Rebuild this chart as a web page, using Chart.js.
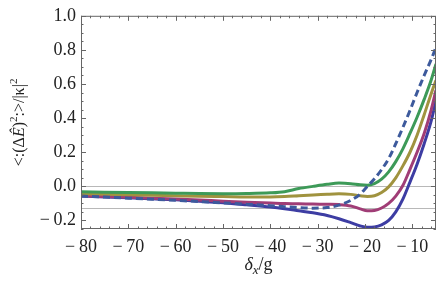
<!DOCTYPE html>
<html>
<head>
<meta charset="utf-8">
<script src="https://cdn.jsdelivr.net/npm/chart.js@4.4.1/dist/chart.umd.min.js"></script>
<style>
html, body { margin: 0; padding: 0; background: #fff; }
#wrap { width: 436px; height: 286px; }
</style>
</head>
<body>
<div id="wrap"><canvas id="chart"></canvas></div>
<script>
// detuning values (δx/g)
const xs = [-80, -75, -70, -65, -60, -55, -50, -45, -40, -37, -34, -31, -28, -25.5, -23, -21, -19.5, -18, -16.5, -15, -13.5, -12, -10.5, -9, -7.5, -6, -5]

const blueVals    = [-0.057, -0.062, -0.067, -0.073, -0.079, -0.087, -0.096, -0.108, -0.121, -0.131, -0.143, -0.155, -0.171, -0.19, -0.213, -0.232, -0.24, -0.238, -0.226, -0.2, -0.15, -0.075, 0.025, 0.13, 0.25, 0.385, 0.505]
const magentaVals = [-0.055, -0.059, -0.064, -0.069, -0.074, -0.08, -0.087, -0.093, -0.098, -0.101, -0.102, -0.104, -0.105, -0.107, -0.115, -0.132, -0.143, -0.141, -0.127, -0.1, -0.057, 0.005, 0.1, 0.2, 0.31, 0.45, 0.565]
const oliveVals   = [-0.043, -0.046, -0.049, -0.052, -0.055, -0.058, -0.06, -0.062, -0.062, -0.06, -0.055, -0.05, -0.046, -0.044, -0.047, -0.055, -0.059, -0.055, -0.036, -0.003, 0.05, 0.12, 0.2, 0.3, 0.42, 0.545, 0.622]
const greenVals   = [-0.032, -0.034, -0.036, -0.038, -0.04, -0.042, -0.043, -0.042, -0.038, -0.031, -0.013, 0.0, 0.012, 0.019, 0.016, 0.009, 0.007, 0.016, 0.042, 0.085, 0.145, 0.22, 0.31, 0.405, 0.51, 0.625, 0.718]
const dashedVals  = [-0.057, -0.063, -0.069, -0.075, -0.082, -0.089, -0.097, -0.105, -0.113, -0.119, -0.125, -0.128, -0.124, -0.11, -0.082, -0.045, 0.0, 0.045, 0.098, 0.163, 0.25, 0.345, 0.445, 0.55, 0.65, 0.745, 0.815]

const xTicks = [-80, -70, -60, -50, -40, -30, -20, -10]
const yTicks = [-0.2, 0.0, 0.2, 0.4, 0.6, 0.8, 1.0]
const refLines = [0, -0.125]

const serif = "'Liberation Serif', 'DejaVu Serif', serif"

function pts(vals) {
 return xs.map((x, i) => ({ x: x, y: vals[i] }))
}

function fmtNum(v, digits) {
 const s = Math.abs(v).toFixed(digits)
 return v < 0 ? "\u2212\u2009" + s : s
}

function line(label, vals, color, order, dash) {
 return {
  label: label,
  data: pts(vals),
  borderColor: color,
  borderWidth: 3,
  borderDash: dash || [],
  pointRadius: 0,
  fill: false,
  cubicInterpolationMode: "monotone",
  order: order
 }
}

// draws a run of text pieces (different fonts / raised) starting at x
function drawPieces(ctx, pieces, x, y) {
 pieces.forEach(p => {
  ctx.font = p.f
  ctx.fillText(p.t, x, y + (p.dy || 0))
  x += ctx.measureText(p.t).width + (p.gap || 0)
 })
}
function piecesWidth(ctx, pieces) {
 let w = 0
 pieces.forEach(p => { ctx.font = p.f; w += ctx.measureText(p.t).width + (p.gap || 0) })
 return w
}

const framePlugin = {
 id: "frame",
 beforeDatasetsDraw(chart) {
  const { ctx, chartArea: a, scales } = chart
  ctx.save()
  ctx.strokeStyle = "#b8b8b8"
  ctx.lineWidth = 1
  refLines.forEach(v => {
   const py = Math.round(scales.y.getPixelForValue(v)) + 0.5
   ctx.beginPath()
   ctx.moveTo(a.left, py)
   ctx.lineTo(a.right, py)
   ctx.stroke()
  })
  ctx.restore()
 },
 afterDatasetsDraw(chart) {
  const { ctx, chartArea: a, scales } = chart
  ctx.save()
  ctx.strokeStyle = "#666"
  ctx.lineWidth = 1
  ctx.strokeRect(a.left + 0.5, a.top + 0.5, a.right - a.left - 1, a.bottom - a.top - 1)

  ctx.beginPath()
  // x ticks, every 2 with majors every 10
  for (let v = -80; v <= -5; v += 2) {
   const px = Math.round(scales.x.getPixelForValue(v)) + 0.5
   const len = v % 10 === 0 ? 5 : 2.5
   ctx.moveTo(px, a.bottom); ctx.lineTo(px, a.bottom - len)
   ctx.moveTo(px, a.top); ctx.lineTo(px, a.top + len)
  }
  // y ticks, every 0.05 with majors every 0.2
  for (let k = -5; k <= 20; k++) {
   const v = k * 0.05
   const py = Math.round(scales.y.getPixelForValue(v)) + 0.5
   const len = k % 4 === 0 ? 5 : 2.5
   ctx.moveTo(a.left, py); ctx.lineTo(a.left + len, py)
   ctx.moveTo(a.right, py); ctx.lineTo(a.right - len, py)
  }
  ctx.stroke()
  ctx.restore()
 },
 afterDraw(chart) {
  const { ctx, chartArea: a } = chart
  ctx.save()
  ctx.fillStyle = "#222"
  ctx.textBaseline = "alphabetic"

  // x axis title: δx/g
  const xt = [
   { t: "\u03b4", f: "italic 18px " + serif },
   { t: "x", f: "italic 13px " + serif, dy: 4 },
   { t: "/g", f: "18px " + serif }
  ]
  const xw = piecesWidth(ctx, xt)
  drawPieces(ctx, xt, (a.left + a.right) / 2 - xw / 2, 270)

  // y axis title: <:(ΔÊ)²:>/|κ|²
  const f = "16px " + serif
  const yt = [
   { t: "<:(\u0394", f: f },
   { t: "\u00ca", f: "italic " + f },
   { t: ")", f: f },
   { t: "2", f: "11px " + serif, dy: -7 },
   { t: ":>/|\u03ba|", f: f },
   { t: "2", f: "11px " + serif, dy: -7 }
  ]
  const yw = piecesWidth(ctx, yt)
  ctx.translate(24, (a.top + a.bottom) / 2)
  ctx.rotate(-Math.PI / 2)
  drawPieces(ctx, yt, -yw / 2, 0)
  ctx.restore()
 }
}

new Chart(document.getElementById("chart"), {
 type: "line",
 data: {
  datasets: [
   line("dashed", dashedVals, "#3d5a9c", 0, [7, 4]),
   line("green", greenVals, "#3d9a58", 1),
   line("olive", oliveVals, "#a0933f", 2),
   line("magenta", magentaVals, "#a03d76", 3),
   line("blue", blueVals, "#3d3da3", 4)
  ]
 },
 options: {
  responsive: true,
  maintainAspectRatio: false,
  animation: false,
  events: [],
  layout: { padding: { top: 11, right: 0, left: 0, bottom: 0 } },
  plugins: { legend: { display: false }, tooltip: { enabled: false } },
  scales: {
   x: {
    type: "linear",
    min: -80,
    max: -5,
    afterBuildTicks: s => { s.ticks = xTicks.map(v => ({ value: v })) },
    afterFit: s => { s.height = 57 },
    grid: { display: false, drawTicks: false },
    border: { display: false },
    ticks: {
     padding: 7,
     color: "#222",
     maxRotation: 0,
     autoSkip: false,
     font: { family: serif, size: 18 },
     callback: v => fmtNum(v, 0)
    }
   },
   y: {
    type: "linear",
    min: -0.25,
    max: 1.0,
    afterBuildTicks: s => { s.ticks = yTicks.map(v => ({ value: v })) },
    afterFit: s => { s.width = 81 },
    grid: { display: false, drawTicks: false },
    border: { display: false },
    ticks: {
     padding: 5,
     color: "#222",
     autoSkip: false,
     font: { family: serif, size: 18 },
     callback: v => fmtNum(v, 1)
    }
   }
  }
 },
 plugins: [framePlugin]
})
</script>
</body>
</html>
